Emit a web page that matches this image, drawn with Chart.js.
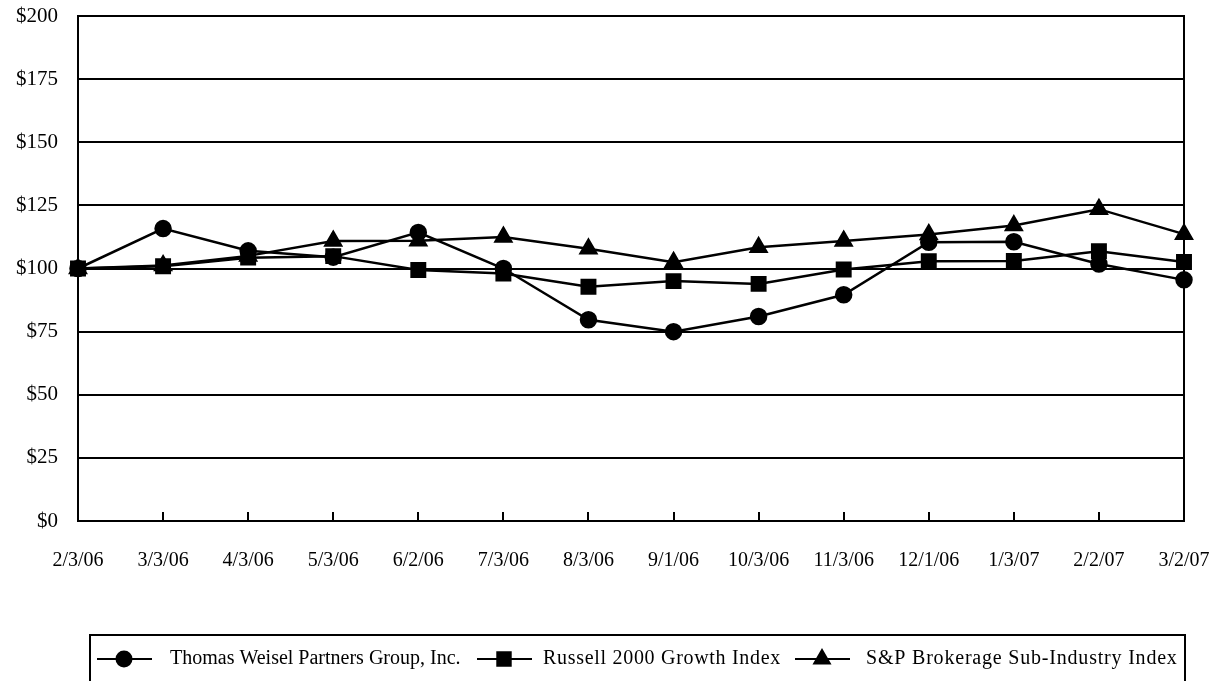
<!DOCTYPE html>
<html>
<head>
<meta charset="utf-8">
<script src="https://cdn.jsdelivr.net/npm/chart.js@4/dist/chart.umd.min.js"></script>
<style>
  body { margin: 0; background: #fff; }
  canvas { display: block; }
</style>
</head>
<body>
<canvas id="perf" width="1216" height="681"></canvas>
<script>
const dates = ["2/3/06", "3/3/06", "4/3/06", "5/3/06", "6/2/06", "7/3/06", "8/3/06",
  "9/1/06", "10/3/06", "11/3/06", "12/1/06", "1/3/07", "2/2/07", "3/2/07"];
const thomasWeisel = [100, 115.8, 107, 104.5, 114.3, 100, 79.7, 75, 81, 89.6, 110.4, 110.6, 101.8, 95.5];
const russell2000 = [100, 100.9, 104.3, 104.9, 99.4, 98, 92.8, 95, 93.9, 99.6, 102.9, 103, 106.8, 102.6];
const spBrokerage = [100, 101.2, 105, 110.9, 111, 112.5, 107.8, 102.5, 108.4, 110.9, 113.5, 117, 123.5, 113.6];
const yTicks = [0, 25, 50, 75, 100, 125, 150, 175, 200];

const serif = "'Liberation Serif', 'Times New Roman', serif";
const ctx = document.getElementById("perf");

// legend drawn by hand: line + marker + label, inside a box under the chart
const boxLegend = {
  id: "boxLegend",
  afterDraw(chart) {
    const c = chart.ctx;
    const lineStart = [97, 477, 795];
    const textStart = [170, 543, 866];
    const spacing = ["0px", "0.7px", "0.8px"];
    const y = 659;
    c.save();
    c.strokeStyle = "#000";
    c.fillStyle = "#000";
    c.lineWidth = 2;
    c.strokeRect(90, 635, 1095, 70);
    chart.data.datasets.forEach((ds, i) => {
      const x0 = lineStart[i];
      c.beginPath();
      c.moveTo(x0, y);
      c.lineTo(x0 + 55, y);
      c.stroke();
      Chart.helpers.drawPoint(c, { pointStyle: ds.pointStyle, radius: ds.pointRadius, rotation: 0, borderWidth: 1 }, x0 + 27, y);
      c.font = "20px " + serif;
      c.letterSpacing = spacing[i];
      c.textBaseline = "middle";
      c.textAlign = "left";
      c.fillText(ds.label, textStart[i], y);
    });
    c.letterSpacing = "0px"; // restore() doesn't always reset this
    c.restore();
  }
};

// box around the plot plus little tick marks pointing up from the x axis
const frame = {
  id: "frame",
  beforeDatasetsDraw(chart) {
    const c = chart.ctx;
    const a = chart.chartArea;
    const xs = chart.scales.x;
    c.save();
    c.strokeStyle = "#000";
    c.lineWidth = 2;
    c.strokeRect(a.left, a.top, a.right - a.left, a.bottom - a.top);
    for (let i = 1; i < dates.length - 1; i++) {
      const px = Math.round(xs.getPixelForTick(i));
      c.beginPath();
      c.moveTo(px, a.bottom);
      c.lineTo(px, a.bottom - 9);
      c.stroke();
    }
    c.restore();
  }
};

new Chart(ctx, {
  type: "line",
  data: {
    labels: dates,
    datasets: [
      {
        label: "Thomas Weisel Partners Group, Inc.",
        data: thomasWeisel,
        borderColor: "#000",
        backgroundColor: "#000",
        borderWidth: 2.5,
        pointStyle: "circle",
        pointRadius: 7.5,
      },
      {
        label: "Russell 2000 Growth Index",
        data: russell2000,
        borderColor: "#000",
        backgroundColor: "#000",
        borderWidth: 2.5,
        pointStyle: "rect",
        pointRadius: 9.5,
      },
      {
        label: "S&P Brokerage Sub-Industry Index",
        data: spBrokerage,
        borderColor: "#000",
        backgroundColor: "#000",
        borderWidth: 2.5,
        pointStyle: "triangle",
        pointRadius: 9,
      },
    ],
  },
  options: {
    responsive: false,
    animation: false,
    devicePixelRatio: 1,
    layout: { padding: { top: 16, right: 32, left: 0, bottom: 0 } },
    plugins: {
      legend: { display: false },
      tooltip: { enabled: false },
    },
    scales: {
      x: {
        type: "category",
        offset: false,
        grid: { display: false, drawTicks: false },
        border: { display: true, color: "#000", width: 2 },
        ticks: {
          color: "#000",
          font: { family: serif, size: 20 },
          padding: 28,
          maxRotation: 0,
          autoSkip: false,
        },
        afterFit(scale) {
          scale.height = 160;
          scale.paddingLeft = 0;
          scale.paddingRight = 0;
        },
      },
      y: {
        min: 0,
        max: 200,
        afterBuildTicks(scale) { scale.ticks = yTicks.map(v => ({ value: v })); },
        grid: { color: "#000", lineWidth: 2, drawTicks: false },
        border: { display: true, color: "#000", width: 2 },
        ticks: {
          color: "#000",
          font: { family: serif, size: 21 },
          padding: 20,
          callback: v => "$" + v,
        },
        afterFit(scale) {
          scale.width = 78;
          scale.paddingTop = 0;
          scale.paddingBottom = 0;
        },
      },
    },
  },
  plugins: [frame, boxLegend],
});
</script>
</body>
</html>
